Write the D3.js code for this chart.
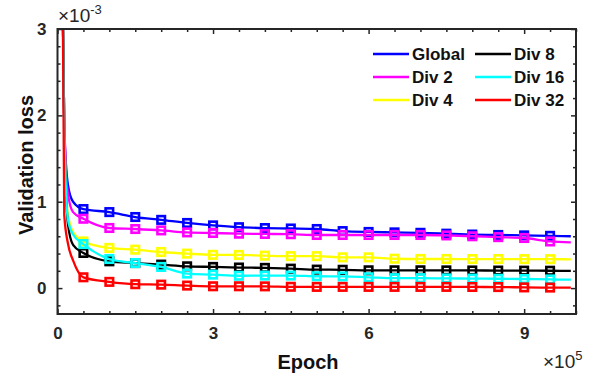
<!DOCTYPE html>
<html>
<head>
<meta charset="utf-8">
<script src="https://cdn.jsdelivr.net/npm/d3@7"></script>
<style>
  body { margin: 0; background: #fff; }
  svg { font-family: "Liberation Sans", Arial, sans-serif; }
  .axis path { stroke: #262626; stroke-width: 2; }
  .axis line { stroke: #262626; stroke-width: 1.5; }
  .axis text { font-size: 17px; font-weight: bold; fill: #262626; }
  .lbl { font-size: 20px; font-weight: bold; fill: #111; }
  .leg { font-size: 17px; font-weight: bold; fill: #111; }
</style>
</head>
<body>
<svg class="chart"></svg>
<script>
// epochs are in units of 1e5, losses in units of 1e-3
var epochs = [0.1, 0.13, 0.2, 0.3, 0.5, 1, 1.5, 2, 2.5, 3, 3.5, 4, 4.5, 5, 5.5, 6, 6.5, 7, 7.5, 8, 8.5, 9, 9.5, 9.9];

var global = [3.3, 1.9, 1.2, 1.0, 0.915, 0.88, 0.823, 0.79, 0.754, 0.726, 0.705, 0.695, 0.69, 0.684, 0.66, 0.65, 0.645, 0.64, 0.63, 0.62, 0.615, 0.61, 0.605, 0.6];
var div2 = [3.3, 1.9, 1.1, 0.88, 0.803, 0.696, 0.684, 0.668, 0.645, 0.638, 0.63, 0.627, 0.624, 0.615, 0.615, 0.615, 0.615, 0.615, 0.61, 0.6, 0.59, 0.58, 0.54, 0.53];
var div4 = [3.3, 1.9, 0.85, 0.65, 0.54, 0.465, 0.445, 0.418, 0.399, 0.385, 0.384, 0.376, 0.37, 0.37, 0.356, 0.356, 0.34, 0.337, 0.337, 0.336, 0.336, 0.335, 0.335, 0.333];
var div8 = [3.3, 1.9, 0.75, 0.5, 0.407, 0.31, 0.29, 0.272, 0.252, 0.245, 0.238, 0.234, 0.225, 0.214, 0.212, 0.206, 0.206, 0.206, 0.205, 0.204, 0.203, 0.202, 0.201, 0.2];
var div16 = [3.3, 1.9, 0.8, 0.62, 0.51, 0.337, 0.29, 0.245, 0.168, 0.156, 0.143, 0.145, 0.145, 0.137, 0.135, 0.125, 0.115, 0.115, 0.112, 0.11, 0.108, 0.105, 0.1, 0.098];
var div32 = [3.4, 0.85, 0.52, 0.32, 0.125, 0.072, 0.045, 0.04, 0.029, 0.021, 0.021, 0.02, 0.015, 0.014, 0.014, 0.014, 0.014, 0.014, 0.014, 0.013, 0.012, 0.008, 0.006, 0.006];

var names = ["Global", "Div 2", "Div 4", "Div 8", "Div 16", "Div 32"];
var colors = ["#0000ff", "#ff00ff", "#ffff00", "#000000", "#00ffff", "#ff0000"];
var seriesValues = [global, div2, div4, div8, div16, div32];

var xTicks = [0, 3, 6, 9];
var yTicks = [0, 1, 2, 3];

var WIDTH = 590, HEIGHT = 378;
var LEFT = 57.5, RIGHT = 576, TOP = 29, BOTTOM = 314;

var svg = d3.select(".chart").attr("width", WIDTH).attr("height", HEIGHT);

var x = d3.scaleLinear().domain([0, 10]).range([LEFT, RIGHT]);
var y = d3.scaleLinear().domain([-0.3, 3]).range([BOTTOM, TOP]);

svg.append("clipPath").attr("id", "clip")
  .append("rect")
  .attr("x", LEFT).attr("y", TOP)
  .attr("width", RIGHT - LEFT).attr("height", BOTTOM - TOP);

var plot = svg.append("g").attr("clip-path", "url(#clip)");

var line = d3.line()
  .x(function(d, i) { return x(epochs[i]); })
  .y(function(d) { return y(d); })
  .curve(d3.curveMonotoneX);

seriesValues.forEach(function(vals, k) {
  plot.append("path")
    .attr("d", line(vals))
    .attr("fill", "none")
    .attr("stroke", colors[k])
    .attr("stroke-width", 2.3);

  // square markers every 0.5e5
  var marked = vals.map(function(v, i) { return [epochs[i], v]; })
    .filter(function(p) { return p[0] >= 0.5 && Math.abs(p[0] * 2 - Math.round(p[0] * 2)) < 1e-6; });
  plot.selectAll(null).data(marked).enter()
    .append("rect")
    .attr("x", function(d) { return x(d[0]) - 3.75; })
    .attr("y", function(d) { return y(d[1]) - 3.75; })
    .attr("width", 7.5).attr("height", 7.5)
    .attr("fill", "none")
    .attr("stroke", colors[k])
    .attr("stroke-width", 2.6);
});

// minor ticks
var xMinor = d3.range(0, 10.01, 0.5).filter(function(v) { return v % 3 !== 0; });
var yMinor = d3.range(-0.2, 3.01, 0.2).filter(function(v) { return Math.abs(v - Math.round(v)) > 1e-6; });

function addAxis(axis, tx, ty) {
  var g = svg.append("g").attr("class", "axis")
    .attr("transform", "translate(" + tx + "," + ty + ")")
    .call(axis);
  g.selectAll(".domain").remove();
  return g;
}

addAxis(d3.axisBottom(x).tickValues(xTicks).tickSize(-5).tickPadding(13).tickFormat(d3.format("d")), 0, BOTTOM);
addAxis(d3.axisBottom(x).tickValues(xMinor).tickSize(-3).tickFormat(""), 0, BOTTOM);
addAxis(d3.axisTop(x).tickValues(xTicks).tickSize(-5).tickFormat(""), 0, TOP);
addAxis(d3.axisTop(x).tickValues(xMinor).tickSize(-3).tickFormat(""), 0, TOP);
addAxis(d3.axisLeft(y).tickValues(yTicks).tickSize(-5).tickPadding(11).tickFormat(d3.format("d")), LEFT, 0);
addAxis(d3.axisLeft(y).tickValues(yMinor).tickSize(-3).tickFormat(""), LEFT, 0);
addAxis(d3.axisRight(y).tickValues(yTicks).tickSize(-5).tickFormat(""), RIGHT, 0);
addAxis(d3.axisRight(y).tickValues(yMinor).tickSize(-3).tickFormat(""), RIGHT, 0);

// box
svg.append("rect")
  .attr("x", LEFT).attr("y", TOP)
  .attr("width", RIGHT - LEFT).attr("height", BOTTOM - TOP)
  .attr("fill", "none")
  .attr("stroke", "#262626")
  .attr("stroke-width", 2);

// axis labels
svg.append("text").attr("class", "lbl")
  .attr("text-anchor", "middle")
  .attr("x", 308).attr("y", 369)
  .text("Epoch");

svg.append("text").attr("class", "lbl")
  .attr("text-anchor", "middle")
  .attr("transform", "translate(33,165) rotate(-90)")
  .text("Validation loss");

// exponent labels
var ex = svg.append("text").attr("x", 58).attr("y", 22)
  .style("font-size", "19px").attr("fill", "#262626");
ex.append("tspan").text("\u00d710");
ex.append("tspan").attr("dy", -8).style("font-size", "13px").text("-3");

var ex2 = svg.append("text").attr("x", 543).attr("y", 368)
  .style("font-size", "19px").attr("fill", "#262626");
ex2.append("tspan").text("\u00d710");
ex2.append("tspan").attr("dy", -8).style("font-size", "13px").text("5");

// legend
var legX = [373, 475], legY = [54, 77, 100];
names.forEach(function(n, k) {
  var col = Math.floor(k / 3), row = k % 3;
  svg.append("line")
    .attr("x1", legX[col]).attr("x2", legX[col] + 36)
    .attr("y1", legY[row]).attr("y2", legY[row])
    .attr("stroke", colors[k]).attr("stroke-width", 2.3);
  svg.append("text").attr("class", "leg")
    .attr("x", legX[col] + 39).attr("y", legY[row] + 6)
    .text(n);
});
</script>
</body>
</html>
